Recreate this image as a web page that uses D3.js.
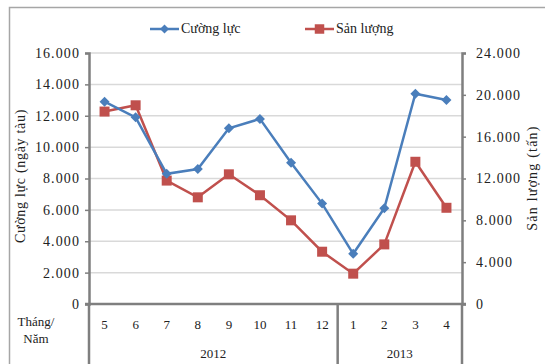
<!DOCTYPE html>
<html>
<head>
<meta charset="utf-8">
<script src="https://cdn.jsdelivr.net/npm/d3@7/dist/d3.min.js"></script>
<style>
  html, body { margin: 0; padding: 0; background: #fff; }
  svg { display: block; }
  text { font-family: "Liberation Serif", "Times New Roman", serif; fill: #222; }
</style>
</head>
<body>
<svg id="chart" width="545" height="364"></svg>
<script>
// Monthly data, May 2012 – April 2013
const months = ["5", "6", "7", "8", "9", "10", "11", "12", "1", "2", "3", "4"];
const years = [
  { label: "2012", from: 0, to: 8 },
  { label: "2013", from: 8, to: 12 }
];
const cuongLuc = [12900, 11900, 8300, 8600, 11200, 11800, 9000, 6400, 3200, 6100, 13400, 13000];
const sanLuong = [18400, 19000, 11800, 10200, 12400, 10400, 8000, 5000, 2900, 5700, 13600, 9200];
const leftTicks = [0, 2000, 4000, 6000, 8000, 10000, 12000, 14000, 16000];
const rightTicks = [0, 4000, 8000, 12000, 16000, 20000, 24000];

const svg = d3.select("#chart");
const plot = { left: 89, right: 462, top: 53, bottom: 304 };
const blue = "#4a7ebb", red = "#c0504d", axisColor = "#7f7f7f", textColor = "#333";

const fmt = v => v === 0 ? "0" : d3.format(",")(v).replace(/,/g, ".");

// Outer frame
svg.append("rect").attr("x", 9.5).attr("y", 7.5).attr("width", 560).attr("height", 380)
  .attr("fill", "none").attr("stroke", "#a6a6a6").attr("stroke-width", 1.5);

const x = d3.scaleBand().domain(months.map((m, i) => i)).range([plot.left, plot.right]);
const yL = d3.scaleLinear().domain([0, 16000]).range([plot.bottom, plot.top]);
const yR = d3.scaleLinear().domain([0, 24000]).range([plot.bottom, plot.top]);
const cx = i => x(i) + x.bandwidth() / 2;

// Gridlines
svg.append("g").selectAll("line").data(leftTicks.filter(t => t > 0)).join("line")
  .attr("x1", plot.left).attr("x2", plot.right)
  .attr("y1", d => yL(d)).attr("y2", d => yL(d))
  .attr("stroke", "#d9d9d9").attr("stroke-width", 1.5);

function styleAxis(g) {
  g.select(".domain").attr("stroke", axisColor).attr("stroke-width", 2.5);
  g.selectAll(".tick line").attr("stroke", axisColor).attr("stroke-width", 1.5);
  g.selectAll(".tick text").style("font-family", "Liberation Serif").style("font-size", "14px")
    .style("letter-spacing", "1.1px").attr("fill", textColor);
}

// Left axis
const gL = svg.append("g").attr("transform", `translate(${plot.left},0)`)
  .call(d3.axisLeft(yL).tickValues(leftTicks).tickFormat(fmt).tickSize(4).tickPadding(5));
styleAxis(gL);

// Right axis
const gR = svg.append("g").attr("transform", `translate(${plot.right},0)`)
  .call(d3.axisRight(yR).tickValues(rightTicks).tickFormat(fmt).tickSize(4).tickPadding(10));
styleAxis(gR);

// Category axis: months, years and separators
svg.append("line").attr("x1", plot.left - 4).attr("x2", plot.right + 4)
  .attr("y1", plot.bottom).attr("y2", plot.bottom)
  .attr("stroke", axisColor).attr("stroke-width", 2.5);
const sepX = [plot.left, x(8), plot.right];
svg.append("g").selectAll("line").data(sepX).join("line")
  .attr("x1", d => d).attr("x2", d => d).attr("y1", plot.bottom).attr("y2", 364)
  .attr("stroke", axisColor).attr("stroke-width", 2.5);
svg.append("g").selectAll("text").data(months).join("text")
  .attr("x", (d, i) => cx(i)).attr("y", 329).attr("text-anchor", "middle")
  .style("font-size", "13px").attr("fill", textColor).text(d => d);
svg.append("g").selectAll("text").data(years).join("text")
  .attr("x", d => (x(d.from) + (d.to < months.length ? x(d.to) : plot.right)) / 2)
  .attr("y", 358).attr("text-anchor", "middle")
  .style("font-size", "13px").attr("fill", textColor).text(d => d.label);
svg.append("text").attr("x", 36).attr("y", 326).attr("text-anchor", "middle")
  .style("font-size", "13px").attr("fill", textColor).text("Tháng/");
svg.append("text").attr("x", 36).attr("y", 343).attr("text-anchor", "middle")
  .style("font-size", "13px").attr("fill", textColor).text("Năm");

// Axis titles
svg.append("text").attr("transform", `translate(25,176) rotate(-90)`)
  .attr("text-anchor", "middle").style("font-size", "14px").style("letter-spacing", "0.7px")
  .attr("fill", textColor).text("Cường lực (ngày tàu)");
svg.append("text").attr("transform", `translate(537,178) rotate(-90)`)
  .attr("text-anchor", "middle").style("font-size", "14px").style("letter-spacing", "1.2px")
  .attr("fill", textColor).text("Sản lượng (tấn)");

// Series lines
const lineL = d3.line().x((d, i) => cx(i)).y(d => yL(d));
const lineR = d3.line().x((d, i) => cx(i)).y(d => yR(d));
svg.append("path").datum(sanLuong).attr("d", lineR).attr("fill", "none")
  .attr("stroke", red).attr("stroke-width", 2.5);
svg.append("path").datum(cuongLuc).attr("d", lineL).attr("fill", "none")
  .attr("stroke", blue).attr("stroke-width", 2.5);

// Markers
svg.append("g").selectAll("path").data(sanLuong).join("path")
  .attr("transform", (d, i) => `translate(${cx(i)},${yR(d)})`)
  .attr("d", d3.symbol().type(d3.symbolSquare).size(100)).attr("fill", red);
svg.append("g").selectAll("path").data(cuongLuc).join("path")
  .attr("transform", (d, i) => `translate(${cx(i)},${yL(d)}) rotate(45)`)
  .attr("d", d3.symbol().type(d3.symbolSquare).size(50)).attr("fill", blue);

// Legend
const legend = [
  { name: "Cường lực", color: blue, x: 150, shape: "diamond" },
  { name: "Sản lượng", color: red, x: 305, shape: "square" }
];
const lg = svg.append("g").selectAll("g").data(legend).join("g")
  .attr("transform", d => `translate(${d.x},29)`);
lg.append("line").attr("x1", 0).attr("x2", 29).attr("stroke", d => d.color).attr("stroke-width", 2.5);
lg.append("path")
  .attr("transform", d => d.shape === "diamond" ? "translate(14.5,0) rotate(45)" : "translate(14.5,0)")
  .attr("d", d => d3.symbol().type(d3.symbolSquare).size(d.shape === "diamond" ? 40 : 90)())
  .attr("fill", d => d.color);
lg.append("text").attr("x", 31).attr("y", 4).style("font-size", "14px").attr("fill", textColor)
  .text(d => d.name);
</script>
</body>
</html>
